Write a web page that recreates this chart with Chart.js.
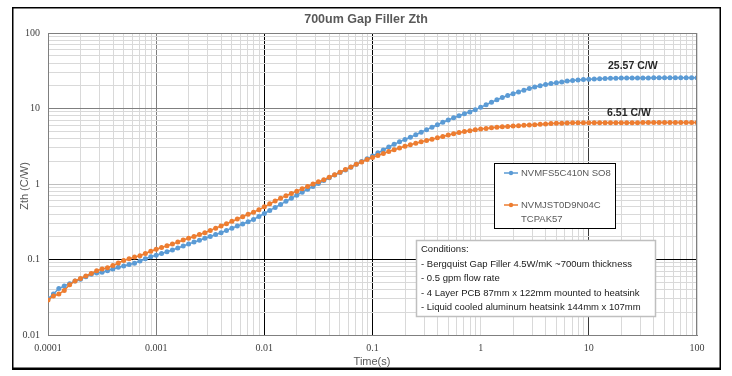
<!DOCTYPE html>
<html><head><meta charset="utf-8">
<script src="https://cdn.jsdelivr.net/npm/chart.js@4/dist/chart.umd.min.js"></script>
<style>html,body{margin:0;padding:0;background:#fff}#wrap{width:732px;height:376px}</style>
</head><body><div id="wrap"><canvas id="c" width="732" height="376"></canvas></div>
<script>
const chartTitle = '700um Gap Filler Zth';
const xAxisTitle = 'Time(s)';
const yAxisTitle = 'Zth (C/W)';
const seriesNames = ['NVMFS5C410N SO8', 'NVMJST0D9N04C TCPAK57'];
const legendLines = [['NVMFS5C410N SO8'], ['NVMJST0D9N04C', 'TCPAK57']];
const seriesColors = ['#5B9BD5', '#ED7D31'];
const xTickLabels = ['0.0001', '0.001', '0.01', '0.1', '1', '10', '100'];
const yTickLabels = ['0.01', '0.1', '1', '10', '100'];
const conditionLines = [
  'Conditions:',
  '- Bergquist Gap Filler 4.5W/mK ~700um thickness',
  '- 0.5 gpm flow rate',
  '- 4 Layer PCB 87mm x 122mm mounted to heatsink',
  '- Liquid cooled aluminum heatsink 144mm x 107mm'
];
const endLabels = ['25.57 C/W', '6.51 C/W'];

const times = [
1e-4,1.122e-4,1.259e-4,1.413e-4,1.585e-4,1.778e-4,1.995e-4,2.239e-4,2.512e-4,2.818e-4,3.162e-4,3.548e-4,3.981e-4,4.467e-4,5.012e-4,5.623e-4,6.31e-4,7.079e-4,7.943e-4,8.913e-4,
1e-3,1.122e-3,1.259e-3,1.413e-3,1.585e-3,1.778e-3,1.995e-3,2.239e-3,2.512e-3,2.818e-3,3.162e-3,3.548e-3,3.981e-3,4.467e-3,5.012e-3,5.623e-3,6.31e-3,7.079e-3,7.943e-3,8.913e-3,
1e-2,1.122e-2,1.259e-2,1.413e-2,1.585e-2,1.778e-2,1.995e-2,2.239e-2,2.512e-2,2.818e-2,3.162e-2,3.548e-2,3.981e-2,4.467e-2,5.012e-2,5.623e-2,6.31e-2,7.079e-2,7.943e-2,8.913e-2,
1e-1,1.122e-1,1.259e-1,1.413e-1,1.585e-1,1.778e-1,1.995e-1,2.239e-1,2.512e-1,2.818e-1,3.162e-1,3.548e-1,3.981e-1,4.467e-1,5.012e-1,5.623e-1,6.31e-1,7.079e-1,7.943e-1,8.913e-1,
1,1.122,1.259,1.413,1.585,1.778,1.995,2.239,2.512,2.818,3.162,3.548,3.981,4.467,5.012,5.623,6.31,7.079,7.943,8.913,
10,11.22,12.59,14.13,15.85,17.78,19.95,22.39,25.12,28.18,31.62,35.48,39.81,44.67,50.12,56.23,63.1,70.79,79.43,89.13,
100];

const zthSO8 = [
0.0302,0.0349,0.0412,0.0447,0.0479,0.0519,0.0547,0.0592,0.0638,0.0665,
0.0676,0.0711,0.0750,0.0789,0.0822,0.0859,0.0895,0.0955,0.1023,0.1089,
0.1138,0.1202,0.1265,0.1337,0.1419,0.1507,0.1603,0.170,0.180,0.191,
0.202,0.214,0.226,0.243,0.260,0.278,0.295,0.316,0.339,0.372,
0.407,0.447,0.490,0.537,0.589,0.646,0.711,0.780,0.851,0.927,
1.012,1.109,1.208,1.318,1.419,1.531,1.667,1.820,1.982,2.153,
2.344,2.588,2.818,3.090,3.365,3.614,3.890,4.169,4.487,4.842,
5.248,5.649,6.095,6.577,7.047,7.551,8.035,8.511,9.016,9.66,
10.35,11.22,12.11,13.03,13.96,14.86,15.74,16.60,17.50,18.41,
19.28,20.04,20.80,21.38,21.98,22.49,23.07,23.55,23.88,24.15,
24.43,24.66,24.83,25.00,25.12,25.23,25.29,25.30,25.35,25.38,
25.40,25.42,25.45,25.47,25.50,25.52,25.53,25.55,25.56,25.57,
25.57];

const zthTCPAK = [
0.0291,0.0329,0.0348,0.0389,0.0462,0.0519,0.0562,0.0604,0.0653,0.0711,
0.0750,0.0776,0.0832,0.0902,0.0968,0.1023,0.1076,0.1122,0.1202,0.1288,
0.1365,0.1439,0.152,0.160,0.170,0.181,0.191,0.202,0.214,0.226,
0.243,0.260,0.278,0.298,0.320,0.344,0.368,0.398,0.422,0.457,
0.499,0.546,0.596,0.646,0.700,0.750,0.804,0.865,0.929,1.000,
1.072,1.135,1.230,1.324,1.436,1.556,1.683,1.820,1.963,2.113,
2.249,2.382,2.529,2.692,2.844,2.999,3.162,3.319,3.467,3.622,
3.767,3.926,4.093,4.266,4.446,4.624,4.797,4.943,5.082,5.212,
5.370,5.445,5.559,5.649,5.728,5.794,5.875,5.929,5.984,6.039,
6.095,6.166,6.237,6.310,6.368,6.397,6.427,6.457,6.471,6.486,
6.49,6.49,6.49,6.50,6.50,6.50,6.50,6.50,6.50,6.50,
6.51,6.51,6.51,6.51,6.51,6.51,6.51,6.51,6.51,6.51,
6.51];

function toPts(ys){ return times.map((t,i)=>({x:t,y:ys[i]})); }
function decadeTicks(labels){
  const out=[];
  labels.forEach((l,i)=>{
    const base=parseFloat(l);
    if(i<labels.length-1){ for(let m=1;m<=9;m++) out.push({value: +(base*m).toPrecision(6)}); }
    else out.push({value: base});
  });
  return out;
}
function labelFor(labels,v){ for(const l of labels){ if(Math.abs(parseFloat(l)-v)/v<1e-6) return l; } return ''; }

const xMajorColor = {'0.001':'#7f7f7f','0.01':'#000000','0.1':'#000000','1':'#d9d9d9','10':'#3a3a3a'};
const yMajorColor = {'10':'#7f7f7f','1':'#bfbfbf','0.1':'#000000'};

const decor = {
  id:'decor',
  afterDraw(chart){
    const ctx=chart.ctx, a=chart.chartArea, xs=chart.scales.x, ys=chart.scales.y;
    ctx.save();
    ctx.strokeStyle='#7f7f7f'; ctx.lineWidth=1;
    ctx.beginPath(); ctx.moveTo(a.left,a.top+0.5); ctx.lineTo(a.right,a.top+0.5); ctx.stroke();
    ctx.beginPath(); ctx.moveTo(a.right-0.5,a.top); ctx.lineTo(a.right-0.5,a.bottom); ctx.stroke();
    ctx.strokeStyle='#000'; ctx.lineWidth=1.5;
    ctx.strokeRect(12.75,7.75,707.5,360.5);
    ctx.lineWidth=2; ctx.beginPath(); ctx.moveTo(12,369); ctx.lineTo(721,369); ctx.stroke();
    ctx.fillStyle='#595959'; ctx.textAlign='center'; ctx.textBaseline='middle';
    ctx.font='bold 12.5px "Liberation Sans", Arial, sans-serif';
    ctx.fillText(chartTitle, 366, 20);
    ctx.font='11px "Liberation Sans", Arial, sans-serif';
    ctx.fillText(xAxisTitle, 372, 362);
    ctx.save(); ctx.translate(25,186); ctx.rotate(-Math.PI/2); ctx.fillText(yAxisTitle,0,0); ctx.restore();
    ctx.fillStyle='#262626';
    ctx.font='bold 10.5px "Liberation Sans", Arial, sans-serif';
    ctx.fillText(endLabels[0], xs.getPixelForValue(25.5), ys.getPixelForValue(zthSO8[zthSO8.length-1])-12);
    ctx.fillText(endLabels[1], xs.getPixelForValue(23.5), ys.getPixelForValue(zthTCPAK[zthTCPAK.length-1])-9);
    ctx.fillStyle='#fff'; ctx.fillRect(494,163,121,65);
    ctx.strokeStyle='#000'; ctx.lineWidth=1; ctx.strokeRect(494.5,163.5,121,65);
    const legY=[173,205];
    ctx.font='9.5px "Liberation Sans", Arial, sans-serif'; ctx.textAlign='left';
    for(let i=0;i<2;i++){
      ctx.strokeStyle=seriesColors[i]; ctx.lineWidth=1.5;
      ctx.beginPath(); ctx.moveTo(504,legY[i]); ctx.lineTo(518,legY[i]); ctx.stroke();
      ctx.fillStyle=seriesColors[i]; ctx.beginPath(); ctx.arc(511,legY[i],2.2,0,Math.PI*2); ctx.fill();
      ctx.fillStyle='#595959';
      legendLines[i].forEach((ln,j)=>ctx.fillText(ln,521,legY[i]+j*14));
    }
    ctx.fillStyle='#fff'; ctx.fillRect(416,240,239,76);
    ctx.strokeStyle='#bfbfbf'; ctx.strokeRect(416.5,240.5,239,76);
    ctx.fillStyle='#1a1a1a';
    ctx.font='9.5px "Liberation Sans", Arial, sans-serif';
    conditionLines.forEach((ln,i)=>ctx.fillText(ln,421,249.5+i*14.5));
    ctx.restore();
  }
};

new Chart(document.getElementById('c'), {
  type:'scatter',
  data:{ datasets:[
    { label:seriesNames[0], data:toPts(zthSO8), showLine:true, borderColor:seriesColors[0], backgroundColor:seriesColors[0],
      borderWidth:1.5, pointRadius:2.5, pointBorderWidth:0, order:1 },
    { label:seriesNames[1], data:toPts(zthTCPAK), showLine:true, borderColor:seriesColors[1], backgroundColor:seriesColors[1],
      borderWidth:1.5, pointRadius:2.5, pointBorderWidth:0, order:0 }
  ]},
  options:{
    responsive:false, animation:false, devicePixelRatio:1,
    layout:{ padding:{ left:12, right:35, top:33, bottom:7 } },
    plugins:{ legend:{display:false}, title:{display:false}, tooltip:{enabled:false} },
    scales:{
      x:{ type:'logarithmic', min:1e-4, max:100,
        afterBuildTicks:s=>{ s.ticks=decadeTicks(xTickLabels); },
        afterFit:s=>{ s.height=34; },
        ticks:{ autoSkip:false, maxRotation:0, padding:7, color:'#404040',
          font:{ family:'"Liberation Serif", serif', size:10 },
          callback:(v)=>labelFor(xTickLabels,v) },
        grid:{ drawTicks:false, lineWidth:1,
          color:c=>{ const v=c.tick&&c.tick.value; if(v===undefined) return '#d9d9d9';
            const l=labelFor(xTickLabels,v); if(l && xMajorColor[l]) return xMajorColor[l]; return '#d9d9d9'; } },
        border:{ display:true, color:'#7f7f7f', width:1 }
      },
      y:{ type:'logarithmic', min:0.01, max:100,
        afterBuildTicks:s=>{ s.ticks=decadeTicks(yTickLabels); },
        afterFit:s=>{ s.width=36; },
        ticks:{ autoSkip:false, padding:8, color:'#404040',
          font:{ family:'"Liberation Serif", serif', size:10 },
          callback:(v)=>labelFor(yTickLabels,v) },
        grid:{ drawTicks:false, lineWidth:1,
          color:c=>{ const v=c.tick&&c.tick.value; if(v===undefined) return '#d9d9d9';
            const l=labelFor(yTickLabels,v); if(l && yMajorColor[l]) return yMajorColor[l]; return '#d9d9d9'; } },
        border:{ display:true, color:'#7f7f7f', width:1 }
      }
    }
  },
  plugins:[decor]
});
</script></body></html>
